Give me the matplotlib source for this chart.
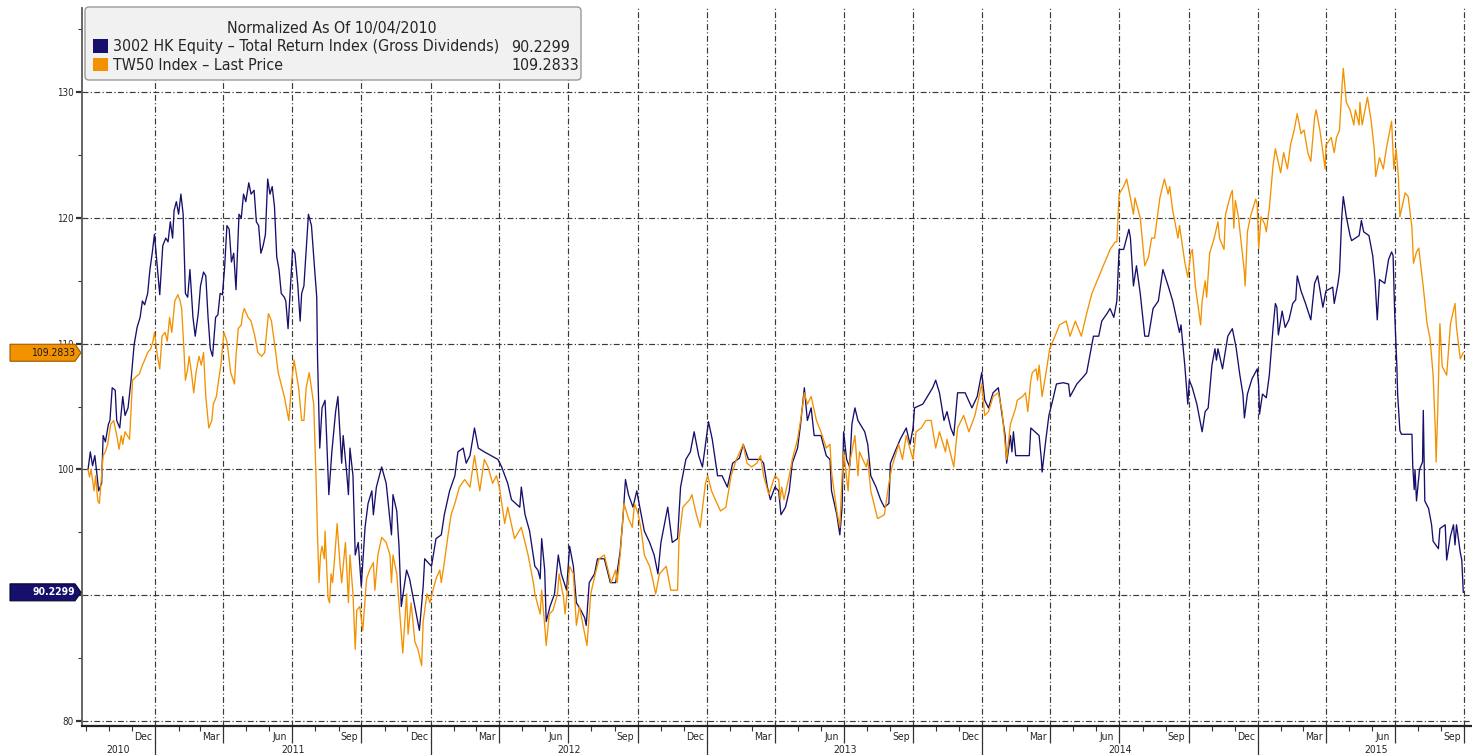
import matplotlib
matplotlib.use('Agg')
import matplotlib.pyplot as plt
import matplotlib.dates as mdates
import matplotlib.transforms as mtransforms
from matplotlib.patches import FancyBboxPatch, Polygon, Rectangle
from matplotlib import font_manager as fm
import pandas as pd
import numpy as np

# ---------------- data ----------------
navy_name = "3002 HK Equity \u2013 Total Return Index (Gross Dividends)"
orange_name = "TW50 Index \u2013 Last Price"
legend_title = "Normalized As Of 10/04/2010"

navy_dates = [
 '2010-10-04','2010-10-07','2010-10-10','2010-10-13','2010-10-16','2010-10-18','2010-10-22','2010-10-24','2010-10-27','2010-10-31',
 '2010-11-02','2010-11-05','2010-11-09','2010-11-11','2010-11-15','2010-11-19','2010-11-22','2010-11-26','2010-11-30',
 '2010-12-04','2010-12-08','2010-12-12','2010-12-15','2010-12-18','2010-12-22','2010-12-25','2010-12-28','2010-12-31',
 '2011-01-04','2011-01-07','2011-01-11','2011-01-15','2011-01-18','2011-01-21','2011-01-24','2011-01-26','2011-01-29',
 '2011-02-01','2011-02-04','2011-02-07','2011-02-10','2011-02-13','2011-02-16','2011-02-20','2011-02-23','2011-02-27',
 '2011-03-02','2011-03-06','2011-03-09','2011-03-12','2011-03-15','2011-03-18','2011-03-22','2011-03-25','2011-03-28','2011-03-31',
 '2011-04-03','2011-04-06','2011-04-09','2011-04-12','2011-04-15','2011-04-18','2011-04-22','2011-04-25','2011-04-28',
 '2011-05-01','2011-05-05','2011-05-08','2011-05-12','2011-05-15','2011-05-18','2011-05-21','2011-05-24','2011-05-27','2011-05-30',
 '2011-06-02','2011-06-05','2011-06-08','2011-06-11','2011-06-14','2011-06-17','2011-06-21','2011-06-23','2011-06-26','2011-06-29',
 '2011-07-02','2011-07-05','2011-07-09','2011-07-12','2011-07-14','2011-07-17','2011-07-20','2011-07-23','2011-07-27','2011-07-30',
 '2011-08-03','2011-08-04','2011-08-07','2011-08-10','2011-08-14','2011-08-16','2011-08-19','2011-08-23','2011-08-28','2011-08-31',
 '2011-09-03','2011-09-05','2011-09-07','2011-09-12','2011-09-14','2011-09-16','2011-09-20','2011-09-23','2011-09-27',
 '2011-10-01','2011-10-06','2011-10-10','2011-10-15','2011-10-17','2011-10-21','2011-10-28',
 '2011-11-03','2011-11-10','2011-11-12','2011-11-17','2011-11-20','2011-11-23','2011-11-30',
 '2011-12-04','2011-12-11','2011-12-17','2011-12-22','2011-12-24',
 '2012-01-02','2012-01-08','2012-01-15','2012-01-19','2012-01-26',
 '2012-02-02','2012-02-06','2012-02-13','2012-02-17','2012-02-22','2012-02-28',
 '2012-03-04','2012-03-12','2012-03-21','2012-03-30',
 '2012-04-04','2012-04-12','2012-04-17','2012-04-28','2012-04-30',
 '2012-05-05','2012-05-11','2012-05-18','2012-05-22','2012-05-25','2012-05-27','2012-05-31',
 '2012-06-02','2012-06-07','2012-06-13','2012-06-18','2012-06-22','2012-06-29',
 '2012-07-03','2012-07-08','2012-07-12','2012-07-18','2012-07-23','2012-07-25','2012-07-29',
 '2012-08-05','2012-08-09','2012-08-18','2012-08-26',
 '2012-09-02','2012-09-08','2012-09-12','2012-09-15','2012-09-19','2012-09-25','2012-09-30',
 '2012-10-04','2012-10-10','2012-10-17','2012-10-23','2012-10-28',
 '2012-11-01','2012-11-10','2012-11-16','2012-11-23','2012-11-27',
 '2012-12-04','2012-12-10','2012-12-15','2012-12-21','2012-12-26','2012-12-30',
 '2013-01-03','2013-01-08','2013-01-15','2013-01-21','2013-01-28',
 '2013-02-04','2013-02-13','2013-02-18','2013-02-25',
 '2013-03-04','2013-03-13','2013-03-17','2013-03-22','2013-03-26',
 '2013-04-01','2013-04-06','2013-04-09','2013-04-15','2013-04-20','2013-04-24',
 '2013-05-01','2013-05-05','2013-05-10','2013-05-14','2013-05-19','2013-05-23',
 '2013-06-01','2013-06-08','2013-06-13','2013-06-15','2013-06-22','2013-06-26','2013-06-29',
 '2013-07-01','2013-07-05','2013-07-09','2013-07-12','2013-07-16','2013-07-20','2013-07-29',
 '2013-08-02','2013-08-06','2013-08-13','2013-08-19','2013-08-24','2013-08-30',
 '2013-09-01','2013-09-07','2013-09-14','2013-09-22','2013-09-27',
 '2013-10-01','2013-10-03','2013-10-14','2013-10-20','2013-10-27','2013-10-31',
 '2013-11-05','2013-11-11','2013-11-15','2013-11-20','2013-11-24','2013-11-29',
 '2013-12-09','2013-12-18','2013-12-25','2013-12-31',
 '2014-01-04','2014-01-09','2014-01-15','2014-01-22','2014-01-27','2014-01-31',
 '2014-02-02','2014-02-07','2014-02-09','2014-02-11','2014-02-14','2014-02-23',
 '2014-03-04','2014-03-06','2014-03-17','2014-03-20','2014-03-21','2014-03-26','2014-03-30',
 '2014-04-04','2014-04-09','2014-04-18','2014-04-25','2014-04-27',
 '2014-05-06','2014-05-15','2014-05-19','2014-05-24','2014-05-28',
 '2014-06-04','2014-06-08','2014-06-15','2014-06-19','2014-06-24','2014-06-28',
 '2014-07-01','2014-07-07','2014-07-14','2014-07-16','2014-07-20','2014-07-24','2014-07-29',
 '2014-08-04','2014-08-09','2014-08-15','2014-08-22','2014-08-28',
 '2014-09-04','2014-09-10','2014-09-19','2014-09-21','2014-09-26','2014-09-30',
 '2014-10-02','2014-10-06','2014-10-12','2014-10-19','2014-10-23','2014-10-27',
 '2014-11-01','2014-11-05','2014-11-07','2014-11-09','2014-11-15','2014-11-22','2014-11-28',
 '2014-12-03','2014-12-08','2014-12-12','2014-12-14','2014-12-18','2014-12-24','2014-12-31',
 '2015-01-02','2015-01-03','2015-01-07','2015-01-12','2015-01-16','2015-01-21','2015-01-24','2015-01-26','2015-01-28',
 '2015-02-02','2015-02-06','2015-02-11','2015-02-16','2015-02-20','2015-02-22','2015-02-27',
 '2015-03-05','2015-03-12','2015-03-17','2015-03-21','2015-03-28',
 '2015-04-01','2015-04-10','2015-04-12','2015-04-17','2015-04-19','2015-04-22','2015-04-24','2015-04-28',
 '2015-05-03','2015-05-05','2015-05-15','2015-05-18','2015-05-21','2015-05-28',
 '2015-06-02','2015-06-05','2015-06-08','2015-06-11','2015-06-18','2015-06-23','2015-06-27','2015-06-29',
 '2015-07-01','2015-07-04','2015-07-05','2015-07-08','2015-07-10','2015-07-24','2015-07-25','2015-07-27','2015-07-28','2015-07-30',
 '2015-08-03','2015-08-07','2015-08-08','2015-08-10','2015-08-15','2015-08-19','2015-08-21','2015-08-28','2015-08-30',
 '2015-09-06','2015-09-08','2015-09-13','2015-09-17','2015-09-19','2015-09-21','2015-09-26','2015-09-28','2015-09-30',
]
navy_values = [
 100.0,101.4,100.3,101.1,99.5,98.3,98.9,102.7,102.2,103.6,
 103.9,106.5,106.3,103.9,103.3,105.8,104.3,104.9,107.1,
 109.9,111.3,112.1,113.4,113.1,114.0,115.9,117.2,118.7,
 115.9,113.9,117.8,118.4,118.1,119.7,118.4,120.6,121.3,
 120.3,121.9,120.3,114.0,113.7,115.9,112.1,110.6,112.4,
 114.6,115.7,115.4,112.1,109.6,109.0,112.1,112.3,114.0,113.9,
 116.1,119.4,119.1,116.5,117.2,114.3,120.3,120.0,121.9,
 121.3,122.8,121.9,122.2,119.7,119.4,117.2,117.8,118.7,123.1,
 121.9,122.5,120.9,116.9,115.9,114.0,113.7,113.4,111.2,114.3,
 117.5,117.2,114.6,111.8,114.0,114.6,117.5,120.3,119.4,116.9,
 113.7,109.0,101.7,104.9,105.5,102.7,98.0,101.4,104.6,105.8,
 102.7,100.5,102.7,99.5,98.0,101.7,99.5,93.2,94.2,
 90.7,95.4,97.3,98.3,96.4,98.6,100.2,
 98.9,94.8,98.0,96.7,93.9,89.1,92.0,
 91.3,89.1,87.2,90.7,92.9,
 92.3,94.5,94.8,96.4,98.3,
 99.5,101.4,101.7,100.5,101.1,103.3,
 101.7,101.4,101.1,100.8,
 100.2,98.9,97.6,97.0,98.6,
 96.4,95.1,92.3,92.0,91.3,94.5,92.0,
 87.9,89.1,90.1,93.2,91.7,90.4,
 93.9,92.3,89.4,88.8,88.2,87.6,91.0,
 91.7,92.9,92.9,91.0,
 91.0,93.5,96.4,99.2,98.0,97.0,98.3,
 97.0,95.1,94.2,93.2,91.7,
 94.2,97.0,94.2,94.5,98.6,
 100.8,101.4,103.0,101.1,100.2,102.0,
 103.8,102.4,99.5,99.5,98.6,
 100.5,100.9,102.0,100.8,
 100.8,100.8,100.5,98.6,97.6,
 98.6,98.3,96.4,97.0,98.3,100.5,
 101.7,103.6,106.5,103.9,104.9,102.7,
 102.7,101.1,100.8,98.3,96.4,94.8,97.0,
 103.0,100.8,100.2,103.6,104.9,103.9,103.0,
 102.0,99.5,98.6,97.6,97.0,97.3,
 100.5,101.4,102.4,103.3,102.0,
 103.3,104.9,105.2,105.8,106.5,107.1,
 106.1,103.9,104.6,103.3,102.7,106.1,
 106.1,104.9,105.8,107.7,
 105.5,104.9,106.1,106.5,104.3,102.7,
 100.5,102.7,101.4,103.0,101.1,101.1,
 101.1,103.3,102.7,100.8,99.8,102.4,104.3,
 105.5,106.8,106.9,106.8,105.8,
 106.8,107.4,107.7,109.3,110.6,
 110.6,111.8,112.4,112.8,112.1,113.4,
 117.5,117.5,119.1,118.4,114.6,116.2,114.0,
 110.6,110.6,112.8,113.4,115.9,
 114.6,113.4,110.9,111.5,108.3,105.2,
 107.1,106.5,105.2,103.0,104.6,104.9,
 108.3,109.6,108.7,109.6,108.0,110.6,111.2,
 109.7,107.5,106.0,104.1,106.0,107.2,108.0,
 106.6,104.4,106.0,105.7,107.5,111.3,113.2,112.9,110.7,
 112.6,111.3,111.9,113.2,113.5,115.4,114.2,
 113.2,111.9,114.8,115.4,112.9,
 114.2,114.5,113.2,114.8,115.7,120.1,121.7,120.1,
 118.6,118.2,118.6,119.8,118.9,118.6,
 117.0,115.1,111.9,115.1,114.8,116.7,117.3,117.0,
 112.6,108.2,106.0,103.1,102.8,102.8,100.3,98.4,100.0,97.5,
 100.0,100.6,104.7,97.5,96.9,95.6,94.3,93.7,95.3,
 95.6,92.8,94.7,95.6,94.0,95.6,93.4,92.8,90.2299,
]

orange_dates = [
 '2010-10-04','2010-10-06','2010-10-08','2010-10-12','2010-10-14','2010-10-17','2010-10-19','2010-10-24','2010-10-27','2010-10-30',
 '2010-11-03','2010-11-07','2010-11-12','2010-11-14','2010-11-17','2010-11-19','2010-11-22','2010-11-25','2010-11-28',
 '2010-12-02','2010-12-07','2010-12-11','2010-12-15','2010-12-18','2010-12-22','2010-12-26','2010-12-29','2010-12-31',
 '2011-01-04','2011-01-07','2011-01-10','2011-01-14','2011-01-17','2011-01-20','2011-01-23','2011-01-27','2011-01-31',
 '2011-02-03','2011-02-05','2011-02-08','2011-02-10','2011-02-13','2011-02-15','2011-02-18','2011-02-21','2011-02-24','2011-02-28',
 '2011-03-03','2011-03-06','2011-03-09','2011-03-13','2011-03-17','2011-03-19','2011-03-23','2011-03-26','2011-03-29',
 '2011-04-02','2011-04-06','2011-04-11','2011-04-16','2011-04-18','2011-04-21','2011-04-25','2011-04-27','2011-04-29',
 '2011-05-04','2011-05-08','2011-05-13','2011-05-17','2011-05-22','2011-05-26','2011-05-31',
 '2011-06-04','2011-06-09','2011-06-13','2011-06-18','2011-06-21','2011-06-27',
 '2011-07-01','2011-07-04','2011-07-10','2011-07-14','2011-07-17','2011-07-20','2011-07-24','2011-07-30',
 '2011-08-02','2011-08-04','2011-08-06','2011-08-08','2011-08-10','2011-08-13','2011-08-14','2011-08-18','2011-08-20','2011-08-22','2011-08-24','2011-08-27','2011-08-30',
 '2011-09-03','2011-09-05','2011-09-10','2011-09-14','2011-09-16','2011-09-20','2011-09-23','2011-09-25','2011-09-29',
 '2011-10-03','2011-10-08','2011-10-12','2011-10-17','2011-10-19','2011-10-23','2011-10-28',
 '2011-11-03','2011-11-08','2011-11-10','2011-11-12','2011-11-17','2011-11-21','2011-11-25','2011-11-28','2011-11-30',
 '2011-12-02','2011-12-06','2011-12-11','2011-12-15','2011-12-20','2011-12-22','2011-12-27','2011-12-31',
 '2012-01-04','2012-01-08','2012-01-13','2012-01-15','2012-01-19','2012-01-24','2012-01-28',
 '2012-02-02','2012-02-08','2012-02-15','2012-02-22','2012-02-28',
 '2012-03-06','2012-03-12','2012-03-17','2012-03-23','2012-03-28',
 '2012-04-01','2012-04-08','2012-04-12','2012-04-21','2012-04-30',
 '2012-05-09','2012-05-16','2012-05-18','2012-05-25','2012-05-27','2012-05-31',
 '2012-06-02','2012-06-06','2012-06-11','2012-06-17','2012-06-19','2012-06-25','2012-06-27',
 '2012-07-03','2012-07-08','2012-07-12','2012-07-16','2012-07-23','2012-07-26','2012-07-31',
 '2012-08-06','2012-08-11','2012-08-18','2012-08-27',
 '2012-09-02','2012-09-04','2012-09-08','2012-09-13','2012-09-19','2012-09-24','2012-09-27',
 '2012-10-02','2012-10-06','2012-10-10','2012-10-17','2012-10-21','2012-10-25','2012-10-30',
 '2012-11-08','2012-11-14','2012-11-23','2012-11-25','2012-11-30',
 '2012-12-09','2012-12-12','2012-12-18','2012-12-23','2012-12-30',
 '2013-01-02','2013-01-07','2013-01-12','2013-01-19','2013-01-26',
 '2013-02-02','2013-02-09','2013-02-18','2013-02-23',
 '2013-03-01','2013-03-08','2013-03-13','2013-03-17','2013-03-24',
 '2013-04-01','2013-04-06','2013-04-08','2013-04-10','2013-04-13','2013-04-20','2013-04-24',
 '2013-05-01','2013-05-05','2013-05-10','2013-05-14','2013-05-19','2013-05-26',
 '2013-06-01','2013-06-08','2013-06-13','2013-06-15','2013-06-22','2013-06-26','2013-06-29',
 '2013-07-01','2013-07-07','2013-07-09','2013-07-16','2013-07-20','2013-07-22','2013-07-31',
 '2013-08-02','2013-08-06','2013-08-15','2013-08-24','2013-08-30',
 '2013-09-03','2013-09-12','2013-09-17','2013-09-22',
 '2013-10-01','2013-10-05','2013-10-12','2013-10-18','2013-10-25','2013-10-31',
 '2013-11-05','2013-11-13','2013-11-15','2013-11-24','2013-11-29',
 '2013-12-07','2013-12-14','2013-12-22','2013-12-31',
 '2014-01-04','2014-01-09','2014-01-15','2014-01-22','2014-01-27','2014-01-31',
 '2014-02-02','2014-02-07','2014-02-14','2014-02-16','2014-02-23','2014-02-27',
 '2014-03-02','2014-03-06','2014-03-08','2014-03-13','2014-03-15','2014-03-17','2014-03-21','2014-03-27','2014-03-31',
 '2014-04-07','2014-04-13','2014-04-22','2014-04-27',
 '2014-05-04','2014-05-12','2014-05-19','2014-05-26','2014-05-30',
 '2014-06-06','2014-06-10','2014-06-15','2014-06-19','2014-06-26','2014-06-28',
 '2014-07-01','2014-07-07','2014-07-11','2014-07-16','2014-07-20','2014-07-22','2014-07-29',
 '2014-08-04','2014-08-09','2014-08-13','2014-08-17','2014-08-24','2014-08-30',
 '2014-09-04','2014-09-06','2014-09-10','2014-09-17','2014-09-19','2014-09-26','2014-09-30',
 '2014-10-04','2014-10-06','2014-10-10','2014-10-17','2014-10-19','2014-10-23','2014-10-25','2014-10-29',
 '2014-11-04','2014-11-09','2014-11-11','2014-11-15','2014-11-17','2014-11-19','2014-11-26','2014-11-28','2014-11-30',
 '2014-12-02','2014-12-06','2014-12-10','2014-12-14','2014-12-15','2014-12-18','2014-12-22','2014-12-29','2014-12-31',
 '2015-01-02','2015-01-05','2015-01-10','2015-01-12','2015-01-16','2015-01-21','2015-01-24','2015-01-31',
 '2015-02-04','2015-02-09','2015-02-13','2015-02-18','2015-02-22','2015-02-27',
 '2015-03-03','2015-03-08','2015-03-12','2015-03-17','2015-03-19','2015-03-24','2015-03-31',
 '2015-04-01','2015-04-08','2015-04-12','2015-04-15','2015-04-19','2015-04-22','2015-04-24','2015-04-28',
 '2015-05-03','2015-05-08','2015-05-10','2015-05-15','2015-05-16','2015-05-19','2015-05-26','2015-05-31',
 '2015-06-04','2015-06-06','2015-06-11','2015-06-16','2015-06-20','2015-06-27','2015-06-30',
 '2015-07-03','2015-07-06','2015-07-08','2015-07-15','2015-07-19','2015-07-24','2015-07-26','2015-07-30',
 '2015-08-02','2015-08-08','2015-08-13','2015-08-17','2015-08-21','2015-08-24','2015-08-25','2015-08-27','2015-08-30',
 '2015-09-02','2015-09-08','2015-09-13','2015-09-19','2015-09-21','2015-09-26','2015-09-30',
]
orange_values = [
 100.0,99.4,100.0,98.3,99.5,97.5,97.3,101.1,101.4,102.0,
 103.6,103.9,102.4,101.6,102.7,102.0,103.0,102.7,102.4,
 107.1,107.4,107.6,108.3,108.7,109.3,109.6,110.2,110.9,
 109.0,108.0,110.6,110.9,110.2,112.1,110.9,113.4,113.9,
 113.4,112.8,109.6,107.1,108.0,109.0,107.7,106.1,107.7,109.0,
 108.3,109.3,105.8,103.3,103.9,105.2,105.8,107.1,108.3,
 110.9,110.2,107.7,106.8,109.0,111.2,111.5,112.4,112.8,
 112.1,111.8,110.6,109.3,109.0,109.3,112.4,
 111.8,109.6,107.7,106.5,105.8,103.9,
 107.1,108.7,106.5,103.9,103.9,106.5,107.7,105.2,
 99.5,94.8,91.0,93.2,93.9,92.9,95.1,89.8,89.4,91.7,91.0,93.2,95.7,
 92.3,91.0,94.2,89.4,93.2,90.1,85.7,88.8,89.1,
 87.2,91.3,92.0,92.6,90.4,93.2,94.6,
 94.2,93.2,91.0,93.2,91.7,88.5,85.4,88.2,90.1,
 86.9,89.4,86.3,85.7,84.4,87.9,90.1,89.4,
 90.4,91.3,92.0,91.0,92.6,94.8,96.4,
 97.3,98.6,99.2,98.6,101.1,
 98.3,100.8,100.2,98.9,99.5,
 98.6,95.7,97.0,94.5,95.4,
 93.2,91.0,90.1,88.5,90.4,87.6,
 86.0,88.5,88.8,90.1,91.7,89.8,88.5,
 92.3,91.7,87.6,89.1,86.9,86.0,90.1,
 91.7,92.9,93.2,91.0,
 92.0,91.0,93.2,97.3,96.1,95.4,97.3,
 96.4,95.1,93.2,92.3,91.3,90.1,91.7,
 92.3,90.4,90.4,94.5,97.0,
 97.6,98.0,96.4,95.4,98.9,
 99.5,98.3,97.6,96.7,97.0,
 99.5,100.8,102.0,100.5,
 100.2,100.5,101.1,99.5,98.0,
 99.5,99.2,97.6,98.6,97.6,99.5,100.8,
 102.4,103.9,106.1,105.2,105.8,103.9,
 103.0,101.7,102.0,99.8,96.7,95.4,99.5,
 101.4,98.3,100.5,102.7,99.5,101.4,100.2,
 100.8,98.3,96.1,96.4,98.9,
 100.2,102.0,100.8,102.7,
 100.8,103.0,103.3,103.9,103.9,101.7,
 103.0,101.4,102.4,100.2,103.3,
 104.3,103.0,104.3,106.8,
 104.3,104.6,105.8,106.1,104.6,102.0,
 100.8,103.6,104.9,105.5,105.8,106.1,
 104.6,107.1,107.7,108.0,107.1,108.3,105.8,108.0,109.6,
 110.6,111.5,111.8,110.6,
 111.8,110.6,112.4,114.0,114.6,
 115.6,116.2,116.9,117.5,118.1,118.1,
 121.9,122.5,123.1,121.6,120.3,121.6,120.0,
 116.2,116.9,118.4,118.4,121.6,123.1,
 121.9,122.5,120.6,118.4,119.4,116.5,115.3,
 117.2,117.5,114.6,111.5,113.4,115.0,113.7,117.2,
 118.4,119.7,118.4,117.8,117.5,120.3,121.9,122.2,119.2,
 121.4,120.1,117.9,115.7,114.6,118.9,120.1,121.5,121.1,
 117.6,120.1,119.5,118.9,120.8,124.2,125.5,123.6,
 125.2,123.9,125.8,127.0,128.3,126.7,
 127.0,125.2,124.5,128.0,128.6,127.0,123.9,
 125.8,126.4,125.2,126.4,127.0,130.2,131.9,129.2,
 128.6,127.4,128.6,127.4,129.2,127.4,129.6,127.7,
 125.5,123.3,124.8,123.9,125.5,127.7,123.9,
 125.5,123.3,120.1,122.0,121.7,119.2,116.4,117.3,
 117.6,114.5,111.6,110.4,107.5,103.1,100.6,104.4,111.6,
 108.2,107.5,111.6,113.2,111.3,108.8,109.2833,
]

y_ticks = [80, 90, 100, 110, 120, 130]
y_tick_labels = ['80', '', '100', '110', '120', '130']   # "90" sits under the navy last-value tag
quarter_month_labels = ['Dec', 'Mar', 'Jun', 'Sep']
years = [2010, 2011, 2012, 2013, 2014, 2015]

assert len(navy_dates) == len(navy_values)
assert len(orange_dates) == len(orange_values)

# ---------------- style ----------------
NAVY = '#16106c'
ORANGE = '#f39200'
GRID = '#3a3a3a'
TXT = '#262626'

cond = [f for f in fm.fontManager.ttflist if 'ondensed' in f.fname and f.name == 'DejaVu Sans']
names = {f.name for f in fm.fontManager.ttflist}
if cond:
    plt.rcParams['font.family'] = ['DejaVu Sans']
    plt.rcParams['font.stretch'] = 'condensed'
elif 'Liberation Sans Narrow' in names:
    plt.rcParams['font.family'] = ['Liberation Sans Narrow']
else:
    plt.rcParams['font.family'] = ['DejaVu Sans']

W, H = 1472, 755
fig = plt.figure(figsize=(W / 100, H / 100), dpi=100, facecolor='white')
ax = fig.add_axes([82 / W, 1 - 726 / H, (1495 - 82) / W, (726 - 8) / H])

x0, x1 = pd.Timestamp('2010-09-26'), pd.Timestamp('2015-11-11')
ax.set_xlim(x0, x1)
ax.set_ylim(79.6, 136.7)

nd = pd.to_datetime(navy_dates)
od = pd.to_datetime(orange_dates)
ax.plot(nd, navy_values, color=NAVY, lw=0.95, zorder=3, solid_joinstyle='round')
ax.plot(od, orange_values, color=ORANGE, lw=0.95, zorder=3, solid_joinstyle='round')

# grid / ticks
quarters = pd.date_range('2011-01-01', '2015-10-01', freq='QS')
months = pd.date_range('2010-10-01', '2015-11-01', freq='MS')
ax.set_xticks(quarters)
ax.set_xticks(months, minor=True)
ax.set_xticklabels([])
ax.set_yticks(y_ticks)
ax.set_yticklabels(y_tick_labels)
ax.set_yticks(np.arange(85, 136, 10), minor=True)
ax.grid(True, which='major', color=GRID, lw=0.85, ls=(0, (5, 2, 1, 2)), zorder=1)

for s in ['top', 'right']:
    ax.spines[s].set_visible(False)
ax.spines['left'].set_color('#5a5a5a')
ax.spines['left'].set_linewidth(1.3)
ax.spines['bottom'].set_color('#222222')
ax.spines['bottom'].set_linewidth(1.6)

ax.tick_params(axis='x', which='major', length=12, width=0.9, color='#333333', labelbottom=False)
ax.tick_params(axis='x', which='minor', length=3.5, width=0.8, color='#333333')
ax.tick_params(axis='y', which='major', length=4, width=1.6, color='#333333',
               labelsize=7, labelcolor=TXT, pad=2)
ax.tick_params(axis='y', which='minor', length=3, width=0.8, color='#333333')

# month labels (mid-month before each quarter gridline)
btrans = mtransforms.blended_transform_factory(ax.transData, ax.transAxes)
for i, q in enumerate(quarters):
    lab = quarter_month_labels[i % 4]
    ax.text(q - pd.Timedelta(days=16), -0.0153, lab, transform=btrans, ha='center', va='center',
            fontsize=7.5, color=TXT, clip_on=False)
# year labels & separators
for yr in years:
    a = max(pd.Timestamp(f'{yr}-01-01'), x0)
    b = min(pd.Timestamp(f'{yr + 1}-01-01'), x1)
    mid = a + (b - a) / 2
    ax.text(mid, -0.0335, str(yr), transform=btrans, ha='center', va='center',
            fontsize=7.5, color=TXT, clip_on=False)
    if yr > 2010:
        ax.axvline(pd.Timestamp(f'{yr}-01-01'), ymin=-0.045, ymax=-0.024, color='#333333',
                   lw=0.9, clip_on=False)

# ---------------- last-value tags ----------------
ident = mtransforms.IdentityTransform()
sx = ax.transAxes.transform((0, 0))[0]


def tag(val, text, fc, ec, tc, weight):
    yd = ax.transData.transform((mdates.date2num(x0), val))[1]
    hh = 8.5
    verts = [(sx - 72, yd + hh), (sx - 7, yd + hh), (sx - 1, yd), (sx - 7, yd - hh), (sx - 72, yd - hh)]
    fig.patches.append(Polygon(verts, closed=True, fc=fc, ec=ec, lw=0.8, transform=ident, zorder=10))
    fig.text(sx - 7, yd, text, transform=ident, ha='right', va='center', fontsize=7.5,
             color=tc, fontweight=weight, zorder=11)


tag(orange_values[-1], f'{orange_values[-1]:.4f}', ORANGE, '#9a5a00', '#1a1a1a', 'normal')
tag(navy_values[-1], f'{navy_values[-1]:.4f}', NAVY, '#05052a', 'white', 'bold')

# ---------------- legend box ----------------
box = FancyBboxPatch((85, H - 80), 496, 73, boxstyle='round,pad=0,rounding_size=4',
                     fc='#f1f1f1', ec='#9a9a9a', lw=1.0, transform=ident, zorder=8)
fig.patches.append(box)
renderer = fig.canvas.get_renderer()
t2 = fig.text(113, H - 47, navy_name, transform=ident, ha='left', va='center',
              fontsize=10, color=TXT, zorder=9)
w = t2.get_window_extent(renderer).width
fs = 10 * 389 / w
t2.set_fontsize(fs)
fig.text(332, H - 28, legend_title, transform=ident, ha='center', va='center', fontsize=fs, color=TXT, zorder=9)
fig.text(113, H - 65, orange_name, transform=ident, ha='left', va='center', fontsize=fs, color=TXT, zorder=9)
fig.text(511, H - 47, f'{navy_values[-1]:.4f}', transform=ident, ha='left', va='center', fontsize=fs, color=TXT, zorder=9)
fig.text(511, H - 65, f'{orange_values[-1]:.4f}', transform=ident, ha='left', va='center', fontsize=fs, color=TXT, zorder=9)
fig.patches.append(Rectangle((93, H - 53), 15, 14, fc=NAVY, ec='none', transform=ident, zorder=9))
fig.patches.append(Rectangle((93, H - 71), 15, 13, fc=ORANGE, ec='none', transform=ident, zorder=9))

fig.savefig('out.png', dpi=100, facecolor='white')
